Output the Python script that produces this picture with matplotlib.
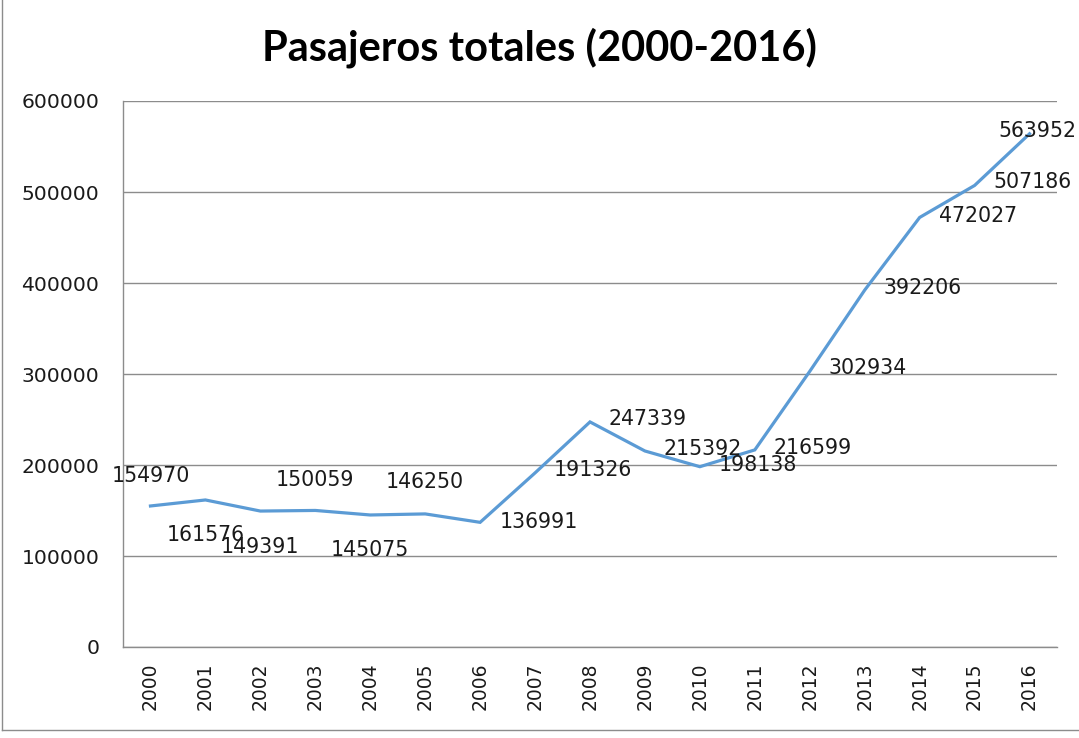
import matplotlib
matplotlib.use("Agg")
import matplotlib.pyplot as plt
from matplotlib.lines import Line2D

years = ["2000", "2001", "2002", "2003", "2004", "2005", "2006", "2007", "2008",
         "2009", "2010", "2011", "2012", "2013", "2014", "2015", "2016"]
pasajeros = [154970, 161576, 149391, 150059, 145075, 146250, 136991, 191326, 247339,
             215392, 198138, 216599, 302934, 392206, 472027, 507186, 563952]
y_ticks = [0, 100000, 200000, 300000, 400000, 500000, 600000]

# label offsets in pixels (dx, dy) relative to each point, centre aligned
label_offsets_px = [(0, -30), (0, 35), (0, 36), (0, -30), (0, 35), (0, -32), (59, 0),
                    (58, -3), (58, -3), (58, -2), (58, -2), (58, -2), (58, -3),
                    (58, -2), (58, -1), (58, -3), (8, -3)]

W, H, DPI = 1079, 738, 100
fig = plt.figure(figsize=(W / DPI, H / DPI), dpi=DPI)
ax = fig.add_axes([123 / W, 1 - 647 / H, (1057 - 123) / W, (647 - 101) / H])

x = list(range(len(years)))
ax.plot(x, pasajeros, color="#5B9BD5", linewidth=2.3, solid_joinstyle="miter", zorder=3)

px2pt = 72 / DPI
for xi, v, (dx, dy) in zip(x, pasajeros, label_offsets_px):
    ax.annotate(str(v), (xi, v), xytext=(dx * px2pt, -dy * px2pt), textcoords="offset points",
                ha="center", va="center", fontsize=14.8, color="#1a1a1a",
                family="DejaVu Sans", zorder=4, annotation_clip=False)

ax.set_xlim(-0.5, len(years) - 0.5)
ax.set_ylim(0, 600000)
ax.set_yticks(y_ticks)
ax.set_yticklabels([str(t) for t in y_ticks], fontsize=14.6, color="#1a1a1a")
ax.set_xticks(x)
ax.set_xticklabels(years, rotation=90, fontsize=13.5, color="#1a1a1a")
ax.tick_params(axis="both", length=0)
ax.tick_params(axis="y", pad=17)
ax.tick_params(axis="x", pad=11)

ax.grid(axis="y", color="#8C8C8C", linewidth=1.0)
ax.set_axisbelow(True)
for s in ["top", "right"]:
    ax.spines[s].set_visible(False)
for s in ["left", "bottom"]:
    ax.spines[s].set_color("#8C8C8C")
    ax.spines[s].set_linewidth(1.0)

fig.text(0.5, 1 - 60 / H, "Pasajeros totales (2000-2016)", ha="center", va="baseline",
         fontsize=30, fontweight="bold", family="Lato", color="black")

# outer chart border (left and bottom edges visible in the crop)
fig.add_artist(Line2D([1.5 / W, 1.5 / W], [1 - 730 / H, 1.0], transform=fig.transFigure,
                      color="#8C8C8C", linewidth=1.0))
fig.add_artist(Line2D([1.5 / W, 1.0], [1 - 730 / H, 1 - 730 / H], transform=fig.transFigure,
                      color="#8C8C8C", linewidth=1.0))

fig.savefig("out.png", dpi=DPI)
